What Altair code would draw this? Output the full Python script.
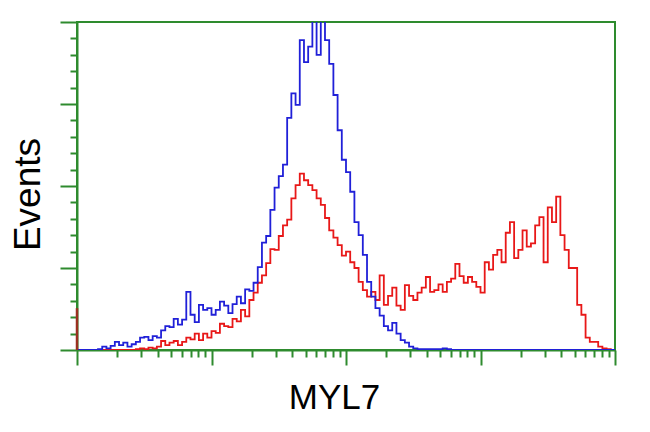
import altair as alt
import pandas as pd
import numpy as np

# Histogram counts, 128 bins of 8 channels each over 4 log decades (1024 channels)
blue_counts = [
    0, 0, 0, 0, 0, 1, 4, 2, 5, 10,
    6, 9, 4, 7, 10, 15, 16, 12, 17, 15,
    24, 29, 28, 38, 31, 37, 71, 43, 34, 55,
    49, 51, 43, 49, 59, 54, 45, 56, 65, 57,
    74, 72, 82, 101, 131, 139, 171, 198, 212, 226,
    283, 313, 299, 378, 351, 370, 405, 360, 402, 378,
    349, 311, 268, 232, 217, 193, 156, 140, 116, 83,
    65, 51, 42, 29, 24, 33, 20, 12, 9, 4,
    2, 1, 1, 1, 1, 1, 1, 2, 1, 0,
    0, 0, 0, 0, 0, 0, 0, 0, 0, 0,
    0, 0, 0, 0, 0, 0, 0, 0, 0, 0,
    0, 0, 0, 0, 0, 0, 0, 0, 0, 0,
    0, 0, 0, 0, 0, 0, 0, 0,
]
red_counts = [
    0, 0, 0, 0, 0, 0, 0, 0, 0, 0,
    0, 0, 0, 0, 1, 2, 1, 3, 2, 4,
    11, 6, 9, 11, 6, 10, 15, 13, 20, 12,
    20, 15, 23, 21, 32, 29, 28, 38, 35, 49,
    41, 61, 70, 82, 91, 106, 123, 122, 139, 152,
    159, 185, 201, 215, 207, 201, 195, 185, 177, 161,
    146, 137, 128, 115, 120, 107, 100, 83, 73, 65,
    71, 61, 91, 55, 66, 76, 54, 49, 79, 66,
    61, 70, 76, 89, 71, 73, 80, 71, 83, 87,
    105, 90, 82, 89, 83, 77, 70, 107, 98, 116,
    122, 107, 143, 156, 112, 122, 146, 126, 130, 152,
    162, 107, 174, 156, 187, 140, 122, 100, 100, 55,
    43, 15, 10, 10, 4, 2, 1, 0,
]
red_channel0 = 51  # events piled in the first channel

x_major = [0, 1, 2, 3, 4]
x_minor = [d + float(np.log10(k)) for d in range(4) for k in range(2, 10)]
y_major = [0, 100, 200, 300, 400]
y_minor = [v for v in range(0, 401, 20) if v % 100 != 0]

n = len(blue_counts)
edges = [i * 8 / 256 for i in range(n)] + [4.0]

rows = []
for name, vals in (("red", red_counts), ("blue", blue_counts)):
    for i, v in enumerate(vals):
        rows.append({"x": edges[i], "y": v, "s": name, "o": i})
    rows.append({"x": 4.0, "y": vals[-1], "s": name, "o": n})
df = pd.DataFrame(rows)

GREEN = "#2e8b2e"

x_axis_minor = alt.Axis(
    orient="bottom", values=x_minor, labels=False, grid=False, domainColor=GREEN,
    domainWidth=2, tickColor=GREEN, tickWidth=2, tickSize=7,
    title="MYL7", titleFont="Liberation Sans", titleFontSize=35, titleFontWeight="normal",
    titleColor="#000000", titleX=257, titleY=58, titleAlign="center", titleBaseline="alphabetic",
)
y_axis_minor = alt.Axis(
    orient="left", values=y_minor, labels=False, grid=False, domainColor=GREEN,
    domainWidth=2, tickColor=GREEN, tickWidth=2, tickSize=7,
    title="Events", titleFont="Liberation Sans", titleFontSize=37, titleFontWeight="normal",
    titleColor="#000000", titleX=-49, titleY=172, titleAlign="center", titleBaseline="middle",
    titleAngle=270,
)
x_axis_major = alt.Axis(
    orient="bottom", values=x_major, labels=False, grid=False, domain=False,
    tickColor=GREEN, tickWidth=2, tickSize=15, title=None,
)
y_axis_major = alt.Axis(
    orient="left", values=y_major, labels=False, grid=False, domain=False,
    tickColor=GREEN, tickWidth=2, tickSize=17, title=None,
)

xs = alt.Scale(domain=[0, 4], nice=False, zero=False)
ys = alt.Scale(domain=[0, 400], nice=False)

red = alt.Chart(df).transform_filter(alt.datum.s == "red").mark_line(
    interpolate="step-after", color="#e81818", strokeWidth=1.8, clip=True
).encode(
    x=alt.X("x:Q", scale=xs, axis=x_axis_minor),
    y=alt.Y("y:Q", scale=ys, axis=y_axis_minor),
    order="o:Q",
)
blue = alt.Chart(df).transform_filter(alt.datum.s == "blue").mark_line(
    interpolate="step-after", color="#2020d8", strokeWidth=1.8, clip=True
).encode(
    x=alt.X("x:Q", scale=xs, axis=x_axis_major),
    y=alt.Y("y:Q", scale=ys, axis=y_axis_major),
    order="o:Q",
)
spike = alt.Chart(pd.DataFrame({"x": [0.0], "y": [red_channel0]})).mark_rule(
    color="#9a3020", strokeWidth=2.5
).encode(
    x=alt.X("x:Q", scale=xs, axis=None),
    y=alt.Y("y:Q", scale=ys, axis=None),
    y2=alt.datum(0),
)

chart = alt.layer(red, blue, spike).resolve_axis(
    x="independent", y="independent"
).properties(
    width=538, height=328,
    autosize=alt.AutoSizeParams(type="none"),
    padding={"left": 69, "top": 14, "right": 27, "bottom": 74},
    background="white",
).configure_view(stroke=GREEN, strokeWidth=2)

chart.save("out.html", embed_options={"renderer": "svg", "actions": False})
